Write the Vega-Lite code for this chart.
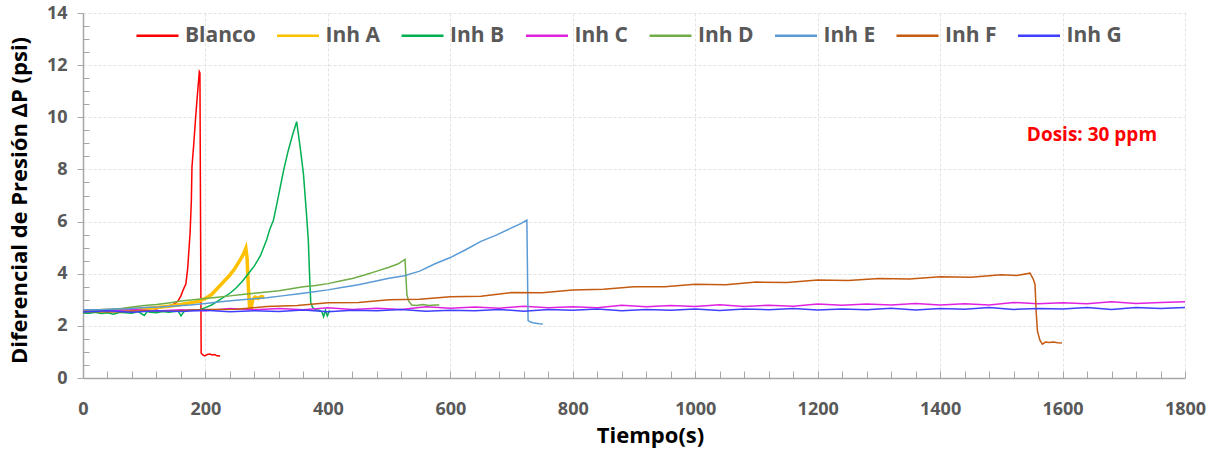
{
"$schema": "https://vega.github.io/schema/vega-lite/v6.json",
"width": 1102, "height": 365,
"autosize": {"type": "none"},
"padding": {"left": 83, "top": 13, "right": 30, "bottom": 71},
"background": "white",
"config": {"view": {"stroke": null}, "font": "Open Sans"},
"data": {"values": [
{"s":"Blanco","t":0,"p":2.55},{"s":"Blanco","t":10,"p":2.58},{"s":"Blanco","t":20,"p":2.53},{"s":"Blanco","t":30,"p":2.57},{"s":"Blanco","t":40,"p":2.6},{"s":"Blanco","t":50,"p":2.56},{"s":"Blanco","t":60,"p":2.6},{"s":"Blanco","t":70,"p":2.62},{"s":"Blanco","t":80,"p":2.58},{"s":"Blanco","t":90,"p":2.64},{"s":"Blanco","t":100,"p":2.62},{"s":"Blanco","t":110,"p":2.68},{"s":"Blanco","t":120,"p":2.65},{"s":"Blanco","t":130,"p":2.72},{"s":"Blanco","t":140,"p":2.75},{"s":"Blanco","t":150,"p":2.85},{"s":"Blanco","t":155,"p":2.95},{"s":"Blanco","t":160,"p":3.15},{"s":"Blanco","t":164,"p":3.4},{"s":"Blanco","t":168,"p":3.6},{"s":"Blanco","t":171,"p":4.2},{"s":"Blanco","t":173,"p":4.9},{"s":"Blanco","t":175,"p":5.6},{"s":"Blanco","t":177,"p":6.8},{"s":"Blanco","t":178,"p":8.1},{"s":"Blanco","t":181,"p":9.0},{"s":"Blanco","t":184,"p":10.0},{"s":"Blanco","t":187,"p":10.9},{"s":"Blanco","t":190,"p":11.75},{"s":"Blanco","t":191,"p":11.7},{"s":"Blanco","t":192,"p":6.0},{"s":"Blanco","t":193,"p":0.95},{"s":"Blanco","t":196,"p":0.88},{"s":"Blanco","t":199,"p":0.85},{"s":"Blanco","t":203,"p":0.9},{"s":"Blanco","t":207,"p":0.92},{"s":"Blanco","t":211,"p":0.88},{"s":"Blanco","t":215,"p":0.9},{"s":"Blanco","t":219,"p":0.85},{"s":"Blanco","t":224,"p":0.84},
{"s":"Inh A","t":0,"p":2.55},{"s":"Inh A","t":20,"p":2.57},{"s":"Inh A","t":40,"p":2.6},{"s":"Inh A","t":60,"p":2.6},{"s":"Inh A","t":80,"p":2.65},{"s":"Inh A","t":100,"p":2.66},{"s":"Inh A","t":120,"p":2.7},{"s":"Inh A","t":140,"p":2.75},{"s":"Inh A","t":160,"p":2.82},{"s":"Inh A","t":180,"p":2.9},{"s":"Inh A","t":190,"p":2.95},{"s":"Inh A","t":200,"p":3.05},{"s":"Inh A","t":210,"p":3.2},{"s":"Inh A","t":220,"p":3.45},{"s":"Inh A","t":230,"p":3.7},{"s":"Inh A","t":240,"p":3.95},{"s":"Inh A","t":248,"p":4.2},{"s":"Inh A","t":256,"p":4.5},{"s":"Inh A","t":262,"p":4.75},{"s":"Inh A","t":266,"p":4.98},{"s":"Inh A","t":268,"p":4.6},{"s":"Inh A","t":270,"p":3.5},{"s":"Inh A","t":272,"p":2.75},{"s":"Inh A","t":275,"p":2.7},{"s":"Inh A","t":277,"p":3.0},{"s":"Inh A","t":281,"p":3.1},{"s":"Inh A","t":286,"p":3.05},{"s":"Inh A","t":291,"p":3.12},{"s":"Inh A","t":296,"p":3.1},
{"s":"Inh B","t":0,"p":2.5},{"s":"Inh B","t":10,"p":2.48},{"s":"Inh B","t":20,"p":2.52},{"s":"Inh B","t":30,"p":2.47},{"s":"Inh B","t":40,"p":2.5},{"s":"Inh B","t":50,"p":2.45},{"s":"Inh B","t":60,"p":2.52},{"s":"Inh B","t":70,"p":2.5},{"s":"Inh B","t":80,"p":2.48},{"s":"Inh B","t":90,"p":2.55},{"s":"Inh B","t":100,"p":2.4},{"s":"Inh B","t":105,"p":2.55},{"s":"Inh B","t":110,"p":2.52},{"s":"Inh B","t":120,"p":2.5},{"s":"Inh B","t":130,"p":2.55},{"s":"Inh B","t":140,"p":2.52},{"s":"Inh B","t":150,"p":2.55},{"s":"Inh B","t":155,"p":2.58},{"s":"Inh B","t":160,"p":2.38},{"s":"Inh B","t":165,"p":2.55},{"s":"Inh B","t":170,"p":2.6},{"s":"Inh B","t":180,"p":2.62},{"s":"Inh B","t":190,"p":2.62},{"s":"Inh B","t":200,"p":2.7},{"s":"Inh B","t":210,"p":2.8},{"s":"Inh B","t":220,"p":2.95},{"s":"Inh B","t":230,"p":3.1},{"s":"Inh B","t":240,"p":3.25},{"s":"Inh B","t":250,"p":3.45},{"s":"Inh B","t":260,"p":3.7},{"s":"Inh B","t":270,"p":4.0},{"s":"Inh B","t":280,"p":4.3},{"s":"Inh B","t":290,"p":4.7},{"s":"Inh B","t":300,"p":5.3},{"s":"Inh B","t":305,"p":5.7},{"s":"Inh B","t":311,"p":6.05},{"s":"Inh B","t":316,"p":6.6},{"s":"Inh B","t":322,"p":7.3},{"s":"Inh B","t":328,"p":8.0},{"s":"Inh B","t":335,"p":8.7},{"s":"Inh B","t":342,"p":9.3},{"s":"Inh B","t":349,"p":9.83},{"s":"Inh B","t":355,"p":8.8},{"s":"Inh B","t":360,"p":7.85},{"s":"Inh B","t":365,"p":6.3},{"s":"Inh B","t":368,"p":5.3},{"s":"Inh B","t":370,"p":4.0},{"s":"Inh B","t":372,"p":2.9},{"s":"Inh B","t":375,"p":2.7},{"s":"Inh B","t":380,"p":2.62},{"s":"Inh B","t":385,"p":2.6},{"s":"Inh B","t":390,"p":2.55},{"s":"Inh B","t":393,"p":2.35},{"s":"Inh B","t":396,"p":2.6},{"s":"Inh B","t":399,"p":2.38},{"s":"Inh B","t":403,"p":2.6},
{"s":"Inh C","t":0,"p":2.61},{"s":"Inh C","t":40,"p":2.57},{"s":"Inh C","t":80,"p":2.63},{"s":"Inh C","t":120,"p":2.57},{"s":"Inh C","t":160,"p":2.62},{"s":"Inh C","t":200,"p":2.58},{"s":"Inh C","t":240,"p":2.67},{"s":"Inh C","t":280,"p":2.62},{"s":"Inh C","t":320,"p":2.67},{"s":"Inh C","t":360,"p":2.62},{"s":"Inh C","t":400,"p":2.69},{"s":"Inh C","t":440,"p":2.63},{"s":"Inh C","t":480,"p":2.68},{"s":"Inh C","t":520,"p":2.63},{"s":"Inh C","t":560,"p":2.73},{"s":"Inh C","t":600,"p":2.68},{"s":"Inh C","t":640,"p":2.72},{"s":"Inh C","t":680,"p":2.68},{"s":"Inh C","t":720,"p":2.75},{"s":"Inh C","t":760,"p":2.69},{"s":"Inh C","t":800,"p":2.73},{"s":"Inh C","t":840,"p":2.69},{"s":"Inh C","t":880,"p":2.79},{"s":"Inh C","t":920,"p":2.73},{"s":"Inh C","t":960,"p":2.78},{"s":"Inh C","t":1000,"p":2.74},{"s":"Inh C","t":1040,"p":2.81},{"s":"Inh C","t":1080,"p":2.74},{"s":"Inh C","t":1120,"p":2.79},{"s":"Inh C","t":1160,"p":2.75},{"s":"Inh C","t":1200,"p":2.84},{"s":"Inh C","t":1240,"p":2.79},{"s":"Inh C","t":1280,"p":2.84},{"s":"Inh C","t":1320,"p":2.8},{"s":"Inh C","t":1360,"p":2.86},{"s":"Inh C","t":1400,"p":2.8},{"s":"Inh C","t":1440,"p":2.85},{"s":"Inh C","t":1480,"p":2.8},{"s":"Inh C","t":1520,"p":2.9},{"s":"Inh C","t":1560,"p":2.85},{"s":"Inh C","t":1600,"p":2.89},{"s":"Inh C","t":1640,"p":2.85},{"s":"Inh C","t":1680,"p":2.92},{"s":"Inh C","t":1720,"p":2.86},{"s":"Inh C","t":1760,"p":2.9},{"s":"Inh C","t":1800,"p":2.92},
{"s":"Inh D","t":0,"p":2.55},{"s":"Inh D","t":20,"p":2.58},{"s":"Inh D","t":40,"p":2.62},{"s":"Inh D","t":60,"p":2.66},{"s":"Inh D","t":80,"p":2.72},{"s":"Inh D","t":100,"p":2.78},{"s":"Inh D","t":120,"p":2.82},{"s":"Inh D","t":140,"p":2.88},{"s":"Inh D","t":160,"p":2.95},{"s":"Inh D","t":180,"p":3.0},{"s":"Inh D","t":200,"p":3.05},{"s":"Inh D","t":220,"p":3.1},{"s":"Inh D","t":240,"p":3.15},{"s":"Inh D","t":260,"p":3.2},{"s":"Inh D","t":280,"p":3.25},{"s":"Inh D","t":300,"p":3.3},{"s":"Inh D","t":320,"p":3.35},{"s":"Inh D","t":340,"p":3.42},{"s":"Inh D","t":360,"p":3.5},{"s":"Inh D","t":380,"p":3.55},{"s":"Inh D","t":400,"p":3.62},{"s":"Inh D","t":420,"p":3.72},{"s":"Inh D","t":440,"p":3.82},{"s":"Inh D","t":460,"p":3.95},{"s":"Inh D","t":480,"p":4.1},{"s":"Inh D","t":500,"p":4.25},{"s":"Inh D","t":515,"p":4.38},{"s":"Inh D","t":526,"p":4.55},{"s":"Inh D","t":529,"p":3.2},{"s":"Inh D","t":532,"p":2.95},{"s":"Inh D","t":537,"p":2.8},{"s":"Inh D","t":545,"p":2.78},{"s":"Inh D","t":555,"p":2.82},{"s":"Inh D","t":565,"p":2.78},{"s":"Inh D","t":575,"p":2.8},{"s":"Inh D","t":582,"p":2.8},
{"s":"Inh E","t":0,"p":2.62},{"s":"Inh E","t":25,"p":2.62},{"s":"Inh E","t":50,"p":2.65},{"s":"Inh E","t":75,"p":2.66},{"s":"Inh E","t":100,"p":2.7},{"s":"Inh E","t":125,"p":2.72},{"s":"Inh E","t":150,"p":2.76},{"s":"Inh E","t":175,"p":2.8},{"s":"Inh E","t":200,"p":2.86},{"s":"Inh E","t":225,"p":2.92},{"s":"Inh E","t":250,"p":2.98},{"s":"Inh E","t":275,"p":3.03},{"s":"Inh E","t":300,"p":3.08},{"s":"Inh E","t":325,"p":3.15},{"s":"Inh E","t":350,"p":3.22},{"s":"Inh E","t":375,"p":3.3},{"s":"Inh E","t":400,"p":3.38},{"s":"Inh E","t":425,"p":3.48},{"s":"Inh E","t":450,"p":3.58},{"s":"Inh E","t":475,"p":3.7},{"s":"Inh E","t":500,"p":3.83},{"s":"Inh E","t":525,"p":3.92},{"s":"Inh E","t":550,"p":4.1},{"s":"Inh E","t":575,"p":4.38},{"s":"Inh E","t":600,"p":4.62},{"s":"Inh E","t":625,"p":4.92},{"s":"Inh E","t":650,"p":5.24},{"s":"Inh E","t":675,"p":5.48},{"s":"Inh E","t":700,"p":5.76},{"s":"Inh E","t":715,"p":5.92},{"s":"Inh E","t":725,"p":6.06},{"s":"Inh E","t":727,"p":2.2},{"s":"Inh E","t":731,"p":2.15},{"s":"Inh E","t":735,"p":2.12},{"s":"Inh E","t":740,"p":2.1},{"s":"Inh E","t":745,"p":2.08},{"s":"Inh E","t":751,"p":2.07},
{"s":"Inh F","t":0,"p":2.55},{"s":"Inh F","t":50,"p":2.53},{"s":"Inh F","t":100,"p":2.58},{"s":"Inh F","t":150,"p":2.57},{"s":"Inh F","t":200,"p":2.63},{"s":"Inh F","t":250,"p":2.64},{"s":"Inh F","t":300,"p":2.74},{"s":"Inh F","t":350,"p":2.78},{"s":"Inh F","t":400,"p":2.89},{"s":"Inh F","t":450,"p":2.9},{"s":"Inh F","t":500,"p":3.0},{"s":"Inh F","t":550,"p":3.02},{"s":"Inh F","t":600,"p":3.12},{"s":"Inh F","t":650,"p":3.14},{"s":"Inh F","t":700,"p":3.28},{"s":"Inh F","t":750,"p":3.27},{"s":"Inh F","t":800,"p":3.38},{"s":"Inh F","t":850,"p":3.4},{"s":"Inh F","t":900,"p":3.5},{"s":"Inh F","t":950,"p":3.5},{"s":"Inh F","t":1000,"p":3.6},{"s":"Inh F","t":1050,"p":3.58},{"s":"Inh F","t":1100,"p":3.68},{"s":"Inh F","t":1150,"p":3.66},{"s":"Inh F","t":1200,"p":3.76},{"s":"Inh F","t":1250,"p":3.74},{"s":"Inh F","t":1300,"p":3.82},{"s":"Inh F","t":1350,"p":3.8},{"s":"Inh F","t":1400,"p":3.88},{"s":"Inh F","t":1450,"p":3.86},{"s":"Inh F","t":1500,"p":3.96},{"s":"Inh F","t":1525,"p":3.93},{"s":"Inh F","t":1547,"p":4.02},{"s":"Inh F","t":1552,"p":3.8},{"s":"Inh F","t":1555,"p":3.6},{"s":"Inh F","t":1557,"p":2.5},{"s":"Inh F","t":1559,"p":1.8},{"s":"Inh F","t":1563,"p":1.45},{"s":"Inh F","t":1567,"p":1.3},{"s":"Inh F","t":1572,"p":1.38},{"s":"Inh F","t":1578,"p":1.36},{"s":"Inh F","t":1585,"p":1.38},{"s":"Inh F","t":1592,"p":1.35},{"s":"Inh F","t":1599,"p":1.34},
{"s":"Inh G","t":0,"p":2.53},{"s":"Inh G","t":40,"p":2.58},{"s":"Inh G","t":80,"p":2.52},{"s":"Inh G","t":120,"p":2.58},{"s":"Inh G","t":160,"p":2.55},{"s":"Inh G","t":200,"p":2.6},{"s":"Inh G","t":240,"p":2.54},{"s":"Inh G","t":280,"p":2.58},{"s":"Inh G","t":320,"p":2.55},{"s":"Inh G","t":360,"p":2.61},{"s":"Inh G","t":400,"p":2.54},{"s":"Inh G","t":440,"p":2.6},{"s":"Inh G","t":480,"p":2.58},{"s":"Inh G","t":520,"p":2.63},{"s":"Inh G","t":560,"p":2.56},{"s":"Inh G","t":600,"p":2.6},{"s":"Inh G","t":640,"p":2.58},{"s":"Inh G","t":680,"p":2.63},{"s":"Inh G","t":720,"p":2.56},{"s":"Inh G","t":760,"p":2.63},{"s":"Inh G","t":800,"p":2.6},{"s":"Inh G","t":840,"p":2.65},{"s":"Inh G","t":880,"p":2.58},{"s":"Inh G","t":920,"p":2.63},{"s":"Inh G","t":960,"p":2.6},{"s":"Inh G","t":1000,"p":2.65},{"s":"Inh G","t":1040,"p":2.59},{"s":"Inh G","t":1080,"p":2.65},{"s":"Inh G","t":1120,"p":2.62},{"s":"Inh G","t":1160,"p":2.67},{"s":"Inh G","t":1200,"p":2.61},{"s":"Inh G","t":1240,"p":2.65},{"s":"Inh G","t":1280,"p":2.62},{"s":"Inh G","t":1320,"p":2.68},{"s":"Inh G","t":1360,"p":2.61},{"s":"Inh G","t":1400,"p":2.67},{"s":"Inh G","t":1440,"p":2.64},{"s":"Inh G","t":1480,"p":2.7},{"s":"Inh G","t":1520,"p":2.63},{"s":"Inh G","t":1560,"p":2.67},{"s":"Inh G","t":1600,"p":2.65},{"s":"Inh G","t":1640,"p":2.7},{"s":"Inh G","t":1680,"p":2.63},{"s":"Inh G","t":1720,"p":2.7},{"s":"Inh G","t":1760,"p":2.67},{"s":"Inh G","t":1800,"p":2.7}
]},
"layer": [
{
 "mark": {"type": "line", "clip": true},
 "encoding": {
  "x": {"field": "t", "type": "quantitative", "scale": {"domain": [0, 1800], "nice": false, "zero": false},
   "axis": {"values": [0,200,400,600,800,1000,1200,1400,1600,1800], "format": "d", "title": "Tiempo(s)", "titleFont": "Open Sans", "titleFontSize": 22, "titleFontWeight": "bold", "titleColor": "#000000", "titleX": 567, "titleY": 57, "titleBaseline": "middle", "titleAlign": "center", "titleAnchor": null,
    "labelFont": "Open Sans", "labelFontSize": 18, "labelFontWeight": "bold", "labelColor": "#595959", "labelPadding": 22, "ticks": false, "domainColor": "#A6A6A6", "domainWidth": 1.5, "grid": true, "gridColor": "#E3E3E3", "gridDash": [3, 2], "gridWidth": 1, "labelFlush": false, "labelOverlap": false}},
  "y": {"field": "p", "type": "quantitative", "scale": {"domain": [0, 14], "nice": false},
   "axis": {"values": [0,2,4,6,8,10,12,14], "title": "Diferencial de Presión ΔP (psi)", "titleFont": "Open Sans", "titleFontSize": 22, "titleFontWeight": "bold", "titleColor": "#000000", "titleX": -64, "titleY": 187, "titleAngle": -90, "titleBaseline": "middle", "titleAlign": "center", "titleAnchor": null,
    "labelFont": "Open Sans", "labelFontSize": 18, "labelFontWeight": "bold", "labelColor": "#595959", "labelPadding": 10, "tickSize": 6, "tickColor": "#A6A6A6", "domainColor": "#A6A6A6", "domainWidth": 1.5, "grid": true, "gridColor": "#E3E3E3", "gridDash": [3, 2], "gridWidth": 1, "labelFlush": false, "labelOverlap": false}},
  "color": {"field": "s", "type": "nominal",
   "scale": {"domain": ["Blanco","Inh A","Inh B","Inh C","Inh D","Inh E","Inh F","Inh G"], "range": ["#FF0000","#FFC000","#00B050","#E022E0","#70AD47","#5B9BD5","#C55A11","#3F3FFF"]},
   "legend": {"title": null, "orient": "none", "legendX": 52, "legendY": 0, "direction": "horizontal", "columns": 8, "columnPadding": 15.5, "symbolType": "stroke", "symbolSize": 1764, "symbolStrokeWidth": 2.5, "labelOffset": 5, "labelFont": "Open Sans", "labelFontSize": 21, "labelFontWeight": "bold", "labelColor": "#595959", "padding": 0, "offset": 0}},
  "strokeWidth": {"condition": {"test": "datum.s === 'Inh A'", "value": 3.5}, "value": 1.5}
 }
},
{
 "mark": {"type": "point", "opacity": 0},
 "encoding": {
  "x": {"field": "t", "type": "quantitative", "axis": {"orient": "bottom", "values": [0,40,80,120,160,200,240,280,320,360,400,440,480,520,560,600,640,680,720,760,800,840,880,920,960,1000,1040,1080,1120,1160,1200,1240,1280,1320,1360,1400,1440,1480,1520,1560,1600,1640,1680,1720,1760,1800], "labels": false, "title": null, "grid": false, "domain": false, "tickSize": -7, "tickColor": "#A6A6A6", "tickWidth": 1}},
  "y": {"field": "p", "type": "quantitative", "axis": {"orient": "left", "values": [0.5,1,1.5,2.5,3,3.5,4.5,5,5.5,6.5,7,7.5,8.5,9,9.5,10.5,11,11.5,12.5,13,13.5], "labels": false, "title": null, "grid": false, "domain": false, "tickSize": -6, "tickColor": "#A6A6A6", "tickWidth": 1}}
 }
},
{
 "data": {"values": [{"t": 1648, "p": 9.32, "label": "Dosis: 30 ppm"}]},
 "mark": {"type": "text", "font": "Open Sans", "fontSize": 19, "fontWeight": "bold", "color": "#FF0000", "align": "center", "baseline": "middle"},
 "encoding": {
  "x": {"field": "t", "type": "quantitative", "axis": null},
  "y": {"field": "p", "type": "quantitative", "axis": null},
  "text": {"field": "label"}
 }
}
],
"resolve": {"axis": {"x": "independent", "y": "independent"}}
}
